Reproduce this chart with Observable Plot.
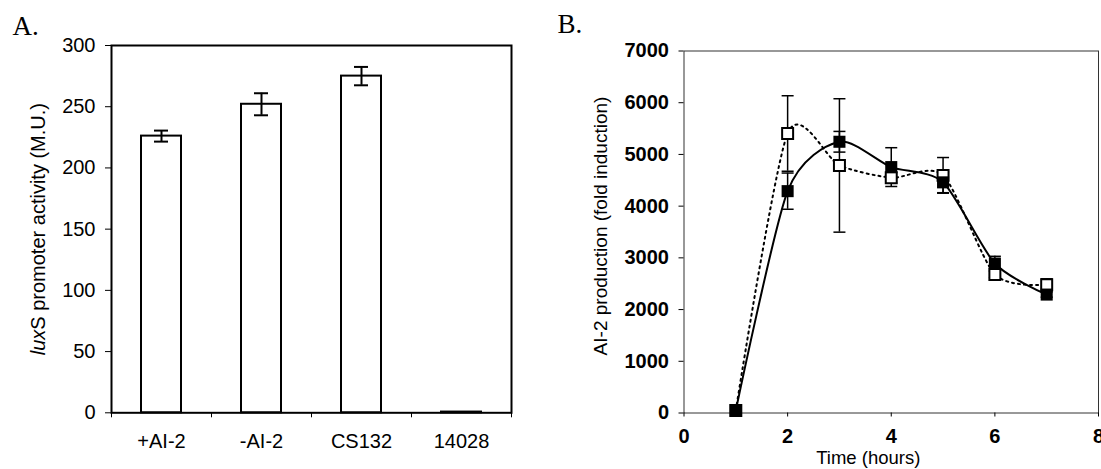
<!DOCTYPE html>
<html><head><meta charset="utf-8">
<script src="https://cdn.jsdelivr.net/npm/d3@7"></script>
<script src="https://cdn.jsdelivr.net/npm/@observablehq/plot@0.6"></script>
<style>
html,body{margin:0;padding:0;background:#fff;}
#wrap{position:relative;width:1101px;height:469px;overflow:hidden;background:#fff;}
#a{position:absolute;left:0;top:0;}
#b{position:absolute;left:540px;top:0;}
</style></head><body><div id="wrap"><div id="a"></div><div id="b"></div></div>
<script>
// Panel A data
const strains = ["+AI-2", "-AI-2", "CS132", "14028"];
const activity = [226, 252, 275, 0.6];
const activityErr = [4.5, 9, 7.5, 0];
const yTicksA = [0, 50, 100, 150, 200, 250, 300];
const yLabelAItalic = "lux";
const yLabelARest = "S promoter activity (M.U.)";

// Panel B data
const hours = [1, 2, 3, 4, 5, 6, 7];
const filled = [50, 4290, 5245, 4755, 4460, 2890, 2290];
const filledErr = [0, 350, 200, 375, 200, 140, 50];
const open = [50, 5405, 4787, 4550, 4595, 2680, 2480];
const openErr = [0, 730, 1290, 100, 345, 60, 115];
const yTicksB = [0, 1000, 2000, 3000, 4000, 5000, 6000, 7000];
const xTicksB = [0, 2, 4, 6, 8];
const xLabelB = "Time (hours)";
const yLabelB = "AI-2 production (fold induction)";

const sans = "'Liberation Sans', Arial, sans-serif";
const serif = "'Liberation Serif', 'Times New Roman', serif";

const barData = strains.map((s, i) => ({strain: s, value: activity[i], err: activityErr[i]}));
const barErr = barData.filter(d => d.err > 0);

const plotA = Plot.plot({
  width: 540, height: 469,
  marginLeft: 111, marginRight: 29, marginTop: 45, marginBottom: 56.7,
  style: {fontFamily: sans, fontSize: "20px", color: "black", background: "white"},
  x: {type: "band", domain: strains, paddingInner: 0.6, paddingOuter: 0.3, axis: null},
  y: {domain: [0, 300], axis: null},
  marks: [
    Plot.barY(barData, {x: "strain", y: "value", fill: "white", stroke: "black", strokeWidth: 2}),
    Plot.ruleX(barErr, {x: "strain", y1: d => d.value - d.err, y2: d => d.value + d.err, stroke: "black", strokeWidth: 2}),
    Plot.tickY(barErr, {x: "strain", y: d => d.value - d.err, insetLeft: 13, insetRight: 13, stroke: "black", strokeWidth: 2}),
    Plot.tickY(barErr, {x: "strain", y: d => d.value + d.err, insetLeft: 13, insetRight: 13, stroke: "black", strokeWidth: 2}),
    Plot.frame({stroke: "black", strokeWidth: 2}),
    Plot.axisY({ticks: yTicksA, tickSize: 6, tickPadding: 10, label: null, fontSize: 20}),
    Plot.axisX({ticks: strains, dx: -50, tickSize: 5, tickFormat: () => "", label: null}),
    Plot.axisX({ticks: strains.slice(-1), dx: 50, tickSize: 5, tickFormat: () => "", label: null}),
    Plot.axisX({ticks: strains, tickSize: 0, tickPadding: 21, label: null, fontSize: 20}),
    Plot.text([yLabelAItalic + yLabelARest], {frameAnchor: "left", textAnchor: "middle", lineAnchor: "middle", rotate: -90, dx: -73, text: d => d, fontSize: 20}),
    Plot.text(["A."], {frameAnchor: "top-left", textAnchor: "start", lineAnchor: "bottom", dx: -99, dy: -11, text: d => d, fontFamily: serif, fontSize: 27})
  ]
});
// italic "lux"
plotA.querySelectorAll("text").forEach(t => {
  if (t.textContent === yLabelAItalic + yLabelARest) {
    t.textContent = "";
    const ts = document.createElementNS("http://www.w3.org/2000/svg", "tspan");
    ts.setAttribute("font-style", "italic");
    ts.textContent = yLabelAItalic;
    t.append(ts, yLabelARest);
  }
});
document.getElementById("a").append(plotA);

const filledRows = hours.map((h, i) => ({h, v: filled[i], e: filledErr[i]}));
const openRows = hours.map((h, i) => ({h, v: open[i], e: openErr[i]}));
const errRows = [...openRows, ...filledRows].filter(d => d.e > 0);
const capSymbol = {
  draw(ctx, size) { const r = Math.sqrt(size / Math.PI); ctx.moveTo(-r, 0); ctx.lineTo(r, 0); }
};

const plotB = Plot.plot({
  width: 561, height: 469,
  marginLeft: 143.5, marginRight: 3, marginTop: 50.5, marginBottom: 56.5,
  style: {fontFamily: sans, fontSize: "20px", color: "black", background: "white"},
  x: {domain: [0, 8], axis: null},
  y: {domain: [0, 7000], axis: null},
  marks: [
    Plot.frame({stroke: "#333", strokeWidth: 1}),
    Plot.axisY({ticks: yTicksB, tickFormat: "d", tickSize: 5, tickPadding: 10, fontWeight: "bold", fontSize: 20, label: null}),
    Plot.axisX({ticks: xTicksB, tickSize: 4, tickPadding: 12, fontWeight: "bold", fontSize: 20, label: null}),
    Plot.ruleX(errRows, {x: "h", y1: d => d.v - d.e, y2: d => d.v + d.e, stroke: "black", strokeWidth: 1.5}),
    Plot.dot(errRows, {x: "h", y: d => d.v - d.e, symbol: capSymbol, r: 6, fill: "none", stroke: "black", strokeWidth: 1.5}),
    Plot.dot(errRows, {x: "h", y: d => d.v + d.e, symbol: capSymbol, r: 6, fill: "none", stroke: "black", strokeWidth: 1.5}),
    Plot.line(openRows, {x: "h", y: "v", curve: "cardinal", tension: 0.25, stroke: "black", strokeWidth: 2, strokeDasharray: "2,4"}),
    Plot.line(filledRows, {x: "h", y: "v", curve: "cardinal", tension: 0.25, stroke: "black", strokeWidth: 2}),
    Plot.dot(openRows, {x: "h", y: "v", symbol: "square", r: 6.2, fill: "white", stroke: "black", strokeWidth: 2}),
    Plot.dot(filledRows, {x: "h", y: "v", symbol: "square", r: 6.8, fill: "black"}),
    Plot.text([xLabelB], {frameAnchor: "bottom", textAnchor: "middle", lineAnchor: "middle", dx: -23, dy: 45, text: d => d, fontSize: 18.5}),
    Plot.text([yLabelB], {frameAnchor: "left", textAnchor: "middle", lineAnchor: "middle", rotate: -90, dx: -83, dy: -6, text: d => d, fontSize: 19}),
    Plot.text(["B."], {frameAnchor: "top-left", textAnchor: "start", lineAnchor: "bottom", dx: -126.5, dy: -18, text: d => d, fontFamily: serif, fontSize: 27})
  ]
});
document.getElementById("b").append(plotB);
</script></body></html>
